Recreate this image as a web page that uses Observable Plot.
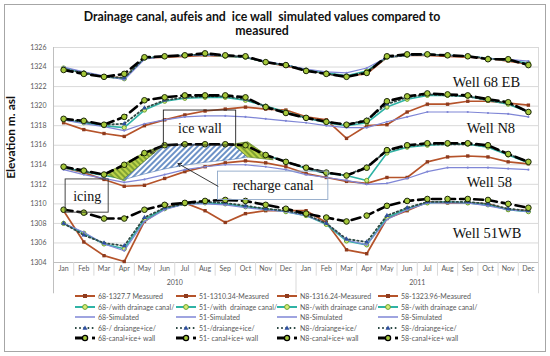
<!DOCTYPE html>
<html><head><meta charset="utf-8">
<script src="https://cdn.jsdelivr.net/npm/d3@7"></script>
<script src="https://cdn.jsdelivr.net/npm/@observablehq/plot@0.6"></script>
<style>
body{margin:0;background:#fff;width:550px;height:356px;position:relative;overflow:hidden;font-family:Lato,"Open Sans",sans-serif}
#frame{position:absolute;left:4px;top:4px;width:542px;height:348px;border:1px solid #a6a6a6;box-sizing:border-box}
#title{position:absolute;left:0;width:524px;top:10px;text-align:center;font-weight:bold;font-size:12.3px;line-height:13.5px;white-space:pre;color:#111}
#chart{position:absolute;left:0;top:37px}
.lg{position:absolute;font-size:7px;color:#595959;white-space:pre;line-height:10px;height:10px}
.lg svg{position:absolute;left:-23px;top:0}
</style></head><body>
<svg width="0" height="0" style="position:absolute">
<defs>
<pattern id="hatchBlue" patternUnits="userSpaceOnUse" width="4" height="4" patternTransform="rotate(45)">
<rect width="4" height="4" fill="#ffffff"/>
<line x1="1" y1="0" x2="1" y2="4" stroke="#3C6DB4" stroke-width="1.5"/>
</pattern>
<pattern id="hatchGreen" patternUnits="userSpaceOnUse" width="4" height="4" patternTransform="rotate(-45)">
<rect width="4" height="4" fill="#BDD44A"/>
<line x1="1" y1="0" x2="1" y2="4" stroke="#4E7A1E" stroke-width="1.1"/>
</pattern>
</defs></svg>
<div id="frame"></div>
<div id="title">Drainage canal, aufeis and  ice wall  simulated values compared to
measured</div>
<div id="chart"></div>
<div id="legend"></div>
<script>
// ---------- data ----------
const monthNames = ["Jan","Feb","Mar","Apr","May","Jun","Jul","Aug","Sep","Oct","Nov","Dec"];
const monthLabels = [...monthNames, ...monthNames];
const yearLabels = ["2010","2011"];
const yTicks = [1304,1306,1308,1310,1312,1314,1316,1318,1320,1322,1324,1326];

const w68_measured = [1323.9,1323.4,1323.0,1322.9,1324.9,1325.0,1325.1,1325.2,1325.1,1325.0,1324.5,1324.1,1323.7,1323.3,1323.1,1323.3,1325.0,1325.2,1325.2,1325.1,1325.0,1324.9,1324.6,1324.3];
const w68_canal    = [1323.9,1323.4,1323.0,1322.8,1324.9,1325.1,1325.2,1325.3,1325.1,1325.0,1324.5,1324.2,1323.7,1323.4,1323.1,1323.6,1325.0,1325.2,1325.3,1325.2,1325.1,1324.9,1324.7,1324.4];
const w68_sim      = [1324.0,1323.5,1323.1,1322.7,1324.8,1325.1,1325.2,1325.2,1325.2,1325.0,1324.6,1324.2,1323.8,1323.5,1323.4,1323.9,1325.0,1325.2,1325.3,1325.2,1325.1,1324.9,1324.8,1324.6];
const w68_ice      = [1323.8,1323.4,1323.0,1322.9,1324.9,1325.1,1325.2,1325.3,1325.2,1325.0,1324.5,1324.2,1323.7,1323.3,1323.0,1323.5,1325.0,1325.2,1325.3,1325.2,1325.1,1324.9,1324.7,1324.3];
const w68_wall     = [1323.7,1323.3,1323.0,1323.3,1325.0,1325.1,1325.2,1325.4,1325.2,1325.1,1324.5,1324.2,1323.6,1323.3,1323.0,1323.4,1325.1,1325.3,1325.3,1325.2,1325.1,1324.8,1324.8,1324.2];

const w51_measured = [1309.3,1306.1,1304.7,1304.1,1308.2,1309.6,1310.1,1309.3,1308.1,1309.0,1309.3,1309.3,1309.3,1308.1,1305.3,1304.9,1308.5,1309.3,1310.2,1310.1,1310.1,1310.0,1309.4,1309.3];
const w51_canal    = [1308.0,1307.0,1305.9,1305.4,1308.4,1309.5,1310.0,1310.1,1310.0,1309.7,1309.5,1309.2,1308.8,1307.9,1306.2,1305.8,1308.6,1309.5,1310.1,1310.2,1310.1,1309.9,1309.4,1309.2];
const w51_sim      = [1308.0,1307.1,1305.9,1305.2,1308.2,1309.4,1310.0,1310.0,1309.9,1309.6,1309.4,1309.2,1308.8,1308.0,1306.3,1305.8,1308.4,1309.4,1310.1,1310.1,1310.1,1309.8,1309.4,1309.2];
const w51_ice      = [1308.0,1306.8,1306.0,1305.7,1308.6,1309.6,1310.0,1310.2,1310.1,1309.8,1309.5,1309.3,1308.9,1308.0,1306.4,1306.1,1308.8,1309.6,1310.2,1310.2,1310.2,1310.0,1309.5,1309.3];
const w51_wall     = [1309.4,1309.1,1308.5,1308.5,1309.4,1309.9,1310.1,1310.3,1310.4,1310.3,1309.9,1309.5,1309.0,1308.6,1308.2,1308.8,1309.8,1310.3,1310.5,1310.5,1310.5,1310.4,1310.0,1309.6];

const n8_measured  = [1318.3,1317.6,1317.2,1316.9,1318.0,1318.6,1319.1,1319.5,1319.7,1319.9,1319.7,1319.6,1318.9,1318.6,1316.7,1318.0,1318.1,1319.4,1320.2,1320.2,1320.5,1320.5,1320.3,1320.1];
const n8_canal     = [1318.6,1318.3,1318.0,1317.8,1319.6,1320.5,1320.8,1320.9,1320.9,1320.6,1320.0,1319.4,1318.8,1318.3,1318.0,1318.3,1319.9,1320.7,1321.1,1321.1,1321.0,1320.6,1320.2,1319.4];
const n8_sim       = [1318.6,1318.2,1317.9,1317.5,1318.2,1318.6,1318.9,1319.0,1319.0,1318.9,1318.7,1318.5,1318.3,1318.0,1317.8,1317.8,1318.4,1318.9,1319.4,1319.4,1319.4,1319.3,1319.2,1318.9];
const n8_ice       = [1318.7,1318.4,1318.1,1318.2,1319.8,1320.6,1320.9,1321.0,1321.0,1320.7,1320.0,1319.3,1318.8,1318.4,1318.1,1318.6,1320.2,1320.9,1321.2,1321.1,1321.0,1320.6,1320.3,1319.4];
const n8_wall      = [1318.7,1318.5,1318.1,1318.9,1320.6,1320.9,1321.1,1321.1,1321.1,1320.9,1319.9,1319.3,1318.8,1318.4,1318.1,1318.5,1320.5,1321.0,1321.3,1321.2,1321.1,1320.7,1320.4,1319.4];

const w58_measured = [1313.7,1313.2,1312.5,1311.8,1311.9,1312.6,1313.3,1313.8,1314.2,1314.4,1314.2,1313.8,1313.1,1312.7,1312.3,1312.1,1312.7,1312.7,1314.3,1314.8,1314.9,1314.8,1314.3,1314.1];
const w58_canal    = [1313.7,1313.3,1312.9,1312.6,1313.8,1314.8,1315.5,1315.8,1315.8,1315.6,1315.0,1314.3,1313.6,1313.1,1312.9,1312.4,1315.2,1315.8,1316.0,1316.1,1316.1,1315.8,1315.0,1314.2];
const w58_sim      = [1313.5,1313.0,1312.6,1312.2,1312.5,1313.0,1313.5,1313.8,1314.0,1314.0,1313.8,1313.5,1313.0,1312.7,1312.4,1312.0,1312.1,1312.6,1313.3,1313.7,1313.7,1313.7,1313.6,1313.5];
const w58_ice      = [1313.8,1313.3,1313.0,1313.3,1314.8,1315.6,1315.9,1316.0,1316.0,1315.8,1315.0,1314.3,1313.7,1313.2,1312.9,1313.8,1315.4,1315.9,1316.1,1316.1,1316.1,1315.9,1315.1,1314.3];
const w58_wall     = [1313.8,1313.4,1313.0,1314.0,1315.2,1316.0,1316.1,1316.1,1316.1,1316.0,1315.0,1314.3,1313.7,1313.2,1312.9,1313.7,1315.5,1316.0,1316.2,1316.2,1316.2,1316.0,1315.1,1314.3];

// legend labels (columns: 68, 51, N8, 58; rows: measured, canal, simulated, ice, wall)
const legend68 = ["68-1327.7 Measured","68-/with drainage canal/","68-Simulated","68-/ draiange+ice/","68-canal+ice+ wall"];
const legend51 = ["51-1310.34-Measured","51-/with  drainage canal/","51-Simulated","51-/draiange+ice/","51- canal+ice+ wall"];
const legendN8 = ["N8-1316.24-Measured","N8-/with drainage canal/","N8-Simulated","N8-/draiange+ice/","N8-canal+ice+ wall"];
const legend58 = ["58-1323.96-Measured","58-/with drainage canal/","58-Simulated","58-/draiange+ice/","58-canal+ice+ wall"];

// annotations (data units: month index, elevation)
const wellLabels = [
  {text:"Well 68 EB", x:19.26, y:1322.4},
  {text:"Well N8",    x:19.95, y:1317.7},
  {text:"Well 58",    x:19.95, y:1312.2},
  {text:"Well 51WB",  x:19.26, y:1306.95}
];
const boxes = [
  {text:"ice wall",       x1:4.96, x2:8.54,  y1:1315.97, y2:1319.55, stroke:"#222"},
  {text:"recharge canal", x1:7.64, x2:13.1,  y1:1310.4,  y2:1313.3,  stroke:"#8FA8C8"},
  {text:"icing",          x1:0.1,  x2:2.23,  y1:1309.1,  y2:1312.5,  stroke:"#333"}
];
const arrows = [
  {x1:4.96, y1:1316.05, x2:4.3,  y2:1315.2},
  {x1:7.64, y1:1311.8,  x2:5.66, y2:1314.13}
];
const blueShape = [
  {x:2.93, lo:1312.39, hi:1312.39},
  {x:4.0,  lo:1313.0,  hi:1314.28},
  {x:4.96, lo:1313.5,  hi:1315.97},
  {x:6.0,  lo:1313.9,  hi:1316.05},
  {x:7.0,  lo:1314.2,  hi:1316.07},
  {x:8.39, lo:1314.5,  hi:1316.07},
  {x:9.13, lo:1314.74, hi:1314.74}
];
const greenLeft = [
  {x:2.0,  lo:1313.0,  hi:1313.0},
  {x:2.93, lo:1312.39, hi:1313.93},
  {x:4.0,  lo:1314.28, hi:1315.2},
  {x:4.96, lo:1315.97, hi:1315.97}
];
const greenRight = [
  {x:8.39, lo:1316.07, hi:1316.07},
  {x:9.13, lo:1314.74, hi:1316.3},
  {x:10.4, lo:1314.45, hi:1314.45}
];

// ---------- styles ----------
const styles = {
  measured:{stroke:"#B5532A", strokeWidth:1.7, symbol:"square", r:1.9, fill:"#8E3B1E", dotStroke:"none"},
  canal:   {stroke:"#2FB3A5", strokeWidth:1.6, symbol:"circle", r:2.1, fill:"#D8EC78", dotStroke:"#6BA22E"},
  sim:     {stroke:"#7F86D6", strokeWidth:1.2, symbol:"circle", r:1.1, fill:"#7F86D6", dotStroke:"none"},
  ice:     {stroke:"#2E4A45", strokeWidth:1.8, dash:"1.5,2.6", symbol:"triangle", r:1.8, fill:"#2E4FA0", dotStroke:"none"},
  wall:    {stroke:"#000000", strokeWidth:2.6, dash:"9,5", symbol:"circle", r:2.8, fill:"#A5C83A", dotStroke:"#1B2608"}
};
const seriesDefs = [
  {v:w68_measured,t:"measured"},{v:w51_measured,t:"measured"},{v:n8_measured,t:"measured"},{v:w58_measured,t:"measured"},
  {v:w68_canal,t:"canal"},{v:w51_canal,t:"canal"},{v:n8_canal,t:"canal"},{v:w58_canal,t:"canal"},
  {v:w68_sim,t:"sim"},{v:w51_sim,t:"sim"},{v:n8_sim,t:"sim"},{v:w58_sim,t:"sim"},
  {v:w68_ice,t:"ice"},{v:w51_ice,t:"ice"},{v:n8_ice,t:"ice"},{v:w58_ice,t:"ice"},
  {v:w68_wall,t:"wall"},{v:w51_wall,t:"wall"},{v:n8_wall,t:"wall"},{v:w58_wall,t:"wall"}
];
function seriesMarks(def){
  const s = styles[def.t];
  return [
    Plot.line(def.v, {x:(d,i)=>i, y:d=>d, stroke:s.stroke, strokeWidth:s.strokeWidth, strokeDasharray:s.dash, curve:"linear"}),
    Plot.dot(def.v, {x:(d,i)=>i, y:d=>d, symbol:s.symbol, r:s.r, fill:s.fill, stroke:s.dotStroke, strokeWidth:1})
  ];
}

const monthIdx = monthLabels.map((d,i)=>i);
const seps = monthIdx.slice(0,-1).map(i=>i+0.5).filter(v=>v!==11.5);

const plot = Plot.plot({
  width:550, height:256, marginTop:10, marginBottom:31, marginLeft:53, marginRight:12,
  x:{domain:[-0.5,23.5], axis:null},
  y:{domain:[1304,1326], axis:null},
  style:{fontFamily:"Lato, sans-serif", background:"transparent", overflow:"visible"},
  marks:[
    Plot.gridY(yTicks, {stroke:"#d9d9d9", strokeOpacity:1, strokeWidth:1}),
    Plot.axisY(yTicks, {tickSize:0, tickPadding:7, fontSize:7, fill:"#595959", label:null, tickFormat:d=>String(d)}),
    Plot.ruleY([1304], {stroke:"#bfbfbf"}),
    Plot.ruleX([-0.5], {y1:1300.8, y2:1326, stroke:"#bfbfbf"}),
    Plot.ruleX([23.5], {y1:1300.8, y2:1326, stroke:"#d9d9d9"}),
    Plot.ruleX([11.5], {y1:1300.8, y2:1304, stroke:"#d9d9d9"}),
    Plot.ruleX(seps, {y1:1302.6, y2:1304, stroke:"#d9d9d9"}),
    Plot.text(monthLabels, {x:(d,i)=>i, frameAnchor:"bottom", dy:8, text:d=>d, fontSize:7, fill:"#595959"}),
    Plot.text(yearLabels, {x:(d,i)=>i*12+5.5, frameAnchor:"bottom", dy:22, text:d=>d, fontSize:7, fill:"#595959"}),
    Plot.text(["Elevation m. asl"], {frameAnchor:"left", textAnchor:"middle", y:()=>1316.8, dx:-42, rotate:-90, fontWeight:"bold", fontSize:12, fill:"#111"}),
    ...seriesDefs.filter(d=>d.t!=="wall").flatMap(seriesMarks),
    Plot.areaY(blueShape, {x:"x", y1:"lo", y2:"hi", fill:"url(#hatchBlue)", stroke:"#4A73B0", strokeWidth:0.6}),
    Plot.areaY(greenLeft, {x:"x", y1:"lo", y2:"hi", fill:"url(#hatchGreen)", stroke:"#557A22", strokeWidth:0.6}),
    Plot.areaY(greenRight, {x:"x", y1:"lo", y2:"hi", fill:"url(#hatchGreen)", stroke:"#557A22", strokeWidth:0.6}),
    ...seriesDefs.filter(d=>d.t==="wall").flatMap(seriesMarks),
    Plot.rect(boxes, {x1:"x1", x2:"x2", y1:"y1", y2:"y2", fill:"none", stroke:d=>d.stroke, strokeWidth:0.9}),
    Plot.text(boxes, {x:d=>(d.x1+d.x2)/2, y:d=>(d.y1+d.y2)/2, text:"text", fontFamily:"Liberation Serif", fontSize:14, fill:"#111"}),
    Plot.arrow(arrows, {x1:"x1", y1:"y1", x2:"x2", y2:"y2", stroke:"#222", strokeWidth:0.9, headLength:6}),
    Plot.text(wellLabels, {x:"x", y:"y", text:"text", textAnchor:"start", fontFamily:"Liberation Serif", fontSize:14.5, fill:"#111"})
  ]
});
document.getElementById("chart").appendChild(plot);

// ---------- legend ----------
const legendCols = [legend68, legend51, legendN8, legend58];
const colX = [98, 199, 300, 401];
const rowY = [291, 301.5, 312, 322.5, 333];
const types = ["measured","canal","sim","ice","wall"];
function swatch(t){
  const s = styles[t];
  let g = "";
  if(t==="measured") g = `<line x1="0" x2="20" y1="5" y2="5" stroke="${s.stroke}" stroke-width="2"/><rect x="8" y="3" width="4" height="4" fill="${s.fill}"/>`;
  if(t==="canal") g = `<line x1="0" x2="20" y1="5" y2="5" stroke="${s.stroke}" stroke-width="2"/><circle cx="10" cy="5" r="2.4" fill="${s.fill}" stroke="${s.dotStroke}"/>`;
  if(t==="sim") g = `<line x1="0" x2="20" y1="5" y2="5" stroke="${s.stroke}" stroke-width="1.5"/>`;
  if(t==="ice") g = `<line x1="0" x2="20" y1="5" y2="5" stroke="${s.stroke}" stroke-width="2" stroke-dasharray="1.6,2.6"/><path d="M10,2.5 L12.5,6.8 L7.5,6.8Z" fill="${s.fill}"/>`;
  if(t==="wall") g = `<line x1="0" x2="12" y1="5" y2="5" stroke="#000" stroke-width="3"/><circle cx="10" cy="5" r="2.6" fill="${s.fill}" stroke="#000" stroke-width="1.3"/><rect x="17" y="3.6" width="3" height="2.8" fill="#000"/>`;
  return `<svg width="21" height="10">${g}</svg>`;
}
const lg = document.getElementById("legend");
legendCols.forEach((col,ci)=>col.forEach((label,ri)=>{
  const d = document.createElement("div");
  d.className = "lg";
  d.style.left = colX[ci]+"px";
  d.style.top = rowY[ri]+"px";
  d.innerHTML = swatch(types[ri]) + label;
  lg.appendChild(d);
}));
</script>
</body></html>
